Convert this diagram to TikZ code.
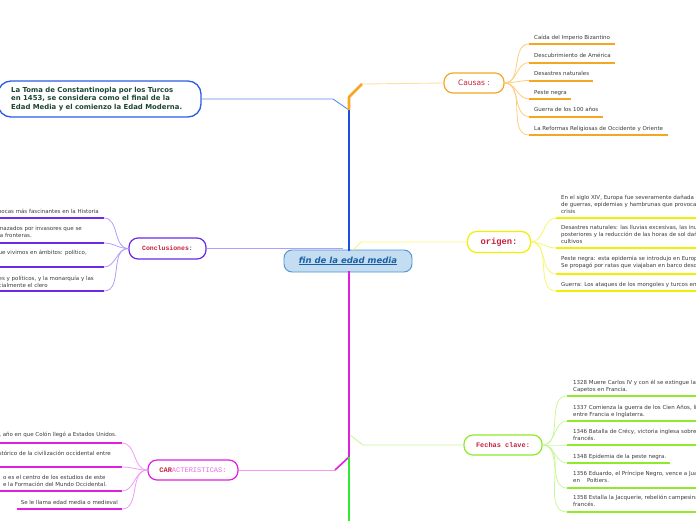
\documentclass[tikz,border=0pt]{standalone}
\usepackage{fontspec}
\setmainfont{DejaVu Sans}
\newfontfamily\monof{Liberation Mono}
\definecolor{leafgray}{HTML}{3A3A3A}
\definecolor{crim}{HTML}{C8203C}
\definecolor{tomablue}{HTML}{2B5CE6}
\definecolor{tomatxt}{HTML}{1C4632}
\definecolor{tomaconn}{HTML}{5B8DEF}
\definecolor{trunkblue}{HTML}{1A4FE0}
\definecolor{orange1}{HTML}{F5A623}
\definecolor{orangeL}{HTML}{FFDDA8}
\definecolor{orangeC}{HTML}{FFCC80}
\definecolor{yel}{HTML}{F0F000}
\definecolor{yelL}{HTML}{F6F670}
\definecolor{lgreen}{HTML}{8EEA2A}
\definecolor{lgreenL}{HTML}{C8F79A}
\definecolor{purp}{HTML}{6A2AE6}
\definecolor{purpL}{HTML}{B59CF8}
\definecolor{mag}{HTML}{E020E0}
\definecolor{magL}{HTML}{F39AF3}
\definecolor{grn}{HTML}{33E833}
\definecolor{cfill}{HTML}{C4DDF0}
\definecolor{cborder}{HTML}{4A92D4}
\definecolor{ctext}{HTML}{1B60A6}
\definecolor{caraL}{HTML}{E86CE8}
\definecolor{colongreen}{HTML}{2A6A50}
\tikzset{
 leaf/.style={font=\fontsize{5.5}{6.8}\selectfont, text=leafgray, inner sep=0pt, align=left},
 pill/.style={draw, line width=1.2pt, rounded corners=9pt, fill=white, inner sep=0pt},
 trunk/.style={line width=2.6pt},
 thinconn/.style={line width=0.9pt},
 curve/.style={line width=0.8pt},
 uline/.style={line width=2pt},
}
\begin{document}
\begin{tikzpicture}[x=1pt,y=-1pt]
\useasboundingbox (0,0) rectangle (696,520);
\clip (0,0) rectangle (696,520);

% trunk coordinates
\coordinate (tO2) at (362,84);
\coordinate (tO1) at (349,97);
\coordinate (tB) at (349,110);
\coordinate (tTop) at (349,251);
\coordinate (tBot) at (349,271);
\coordinate (tM) at (349,457);
\coordinate (tEnd) at (349,530);
\coordinate (tb1) at (333,99);
\coordinate (yl0) at (353,250);
\coordinate (yl1) at (361,242);
\coordinate (pl1) at (343,248.5);
\coordinate (mg1) at (335,470);
\coordinate (lg0) at (350,435);
\coordinate (lg1) at (363,445);

% nodes
\node[draw=cborder, fill=cfill, line width=0.9pt, rounded corners=8pt, minimum width=128pt, minimum height=22pt, inner sep=0pt, font=\fontsize{8.5}{10}\selectfont\bfseries\itshape, text=ctext] (central) at (348,261) {\underline{fin de la edad media}};
\node[pill, draw=orange1, minimum width=60pt, minimum height=20pt, font=\fontsize{7.5}{9}\selectfont, text=crim] (causas) at (474,83) {Causas :};
\node[pill, draw=yel, minimum width=63pt, minimum height=21pt, font=\monof\bfseries\fontsize{8.8}{10}\selectfont, text=crim] (origen) at (499,242) {origen:};
\node[pill, draw=lgreen, minimum width=78pt, minimum height=20pt, font=\monof\bfseries\fontsize{6.9}{9}\selectfont, text=crim] (fechas) at (503,445) {Fechas clave:};
\node[pill, draw=purp, minimum width=77pt, minimum height=21pt, font=\monof\bfseries\fontsize{6.5}{9}\selectfont, text=crim] (concl) at (167.5,248.5) {Conclusiones\textcolor{colongreen}{:}};
\node[pill, draw=mag, minimum width=90pt, minimum height=20pt, font=\monof\fontsize{7}{9}\selectfont, text=crim] (caract) at (193,470) {\textbf{CAR}\textcolor{caraL}{ACTERISTICAS:}};
\node[draw=tomablue, line width=1.3pt, rounded corners=13pt, minimum width=203pt, minimum height=36pt, fill=white, inner sep=0pt] (toma) at (99.5,99) {};
\node[anchor=west, align=left, inner sep=0pt, font=\fontsize{6.9}{8.7}\selectfont\bfseries, text=tomatxt] (tomatext) at (11,99) {La Toma de Constantinopla por los Turcos\\en 1453, se considera como el final de la\\Edad Media y el comienzo la Edad Moderna.};

% trunk and branches
\draw[thinconn, tomaconn] (toma.east) -- (tb1) -- (tB);
\draw[trunk, trunkblue] (tTop) -- (tB);
\draw[trunk, orange1, line join=round] (tB) -- (tO1) -- (tO2);
\draw[thinconn, orangeL] (tO2) -- (causas.west);
\draw[thinconn, yelL] (yl0) -- (yl1) -- (origen.west);
\draw[thinconn, purpL] (concl.east) -- (pl1);
\draw[trunk, mag] (tBot) -- (tM);
\draw[line width=1.6pt, mag] (tM) -- (mg1);
\draw[thinconn, magL] (mg1) -- (caract.east);
\draw[thinconn, lgreenL] (lg0) -- (lg1) -- (fechas.west);
\draw[trunk, grn] (tM) -- (tEnd);

% Causas leaves
\foreach \i/\y/\e/\t in {1/44/615/{Caída del Imperio Bizantino}, 2/62.5/615/{Descubrimiento de América}, 3/80.5/593/{Desastres naturales}, 4/99/571/{Peste negra}, 5/116.5/603/{Guerra de los 100 años}, 6/135/668/{La Reformas Religiosas de Occidente y Oriente}}{
 \coordinate (cas\i) at (529,\y);
 \coordinate (cae\i) at (\e,\y);
 \node[leaf, anchor=base west] (cat\i) at (534,{\y-4.8}) {\t};
 \draw[uline, orange1] (cas\i) -- (cae\i);
 \draw[curve, orangeC] (causas.east) to[out=0,in=180] (cas\i);
}

% Origen leaves
\foreach \i/\tp/\u/\t in {1/195.2/218/{En el siglo XIV, Europa fue severamente dañada por una serie\\de guerras, epidemias y hambrunas que provocaron una gran\\crisis}, 2/225.2/248/{Desastres naturales: las lluvias excesivas, las inundaciones\\posteriores y la reducción de las horas de sol dañaron los\\cultivos}, 3/256.2/274/{Peste negra: esta epidemia se introdujo en Europa en 1347.\\Se propagó por ratas que viajaban en barco desde Asia.}, 4/282.2/291/{Guerra: Los ataques de los mongoles y turcos en Europa}}{
 \coordinate (ors\i) at (556,\u);
 \coordinate (ore\i) at (710,\u);
 \node[leaf, anchor=north west] (ort\i) at (561,\tp) {\t};
 \draw[uline, yel] (ors\i) -- (ore\i);
 \draw[curve, yelL] (origen.east) to[out=0,in=180] (ors\i);
}

% Fechas leaves
\foreach \i/\tp/\u/\e/\t in {1/380.2/396/710/{1328 Muere Carlos IV y con él se extingue la dinastía de los\\Capetos en Francia.}, 2/405.2/421/710/{1337 Comienza la guerra de los Cien Años, librada\\entre Francia e Inglaterra.}, 3/429.2/445/710/{1346 Batalla de Crécy, victoria inglesa sobre el ejército\\francés.}, 4/454.2/463/670/{1348 Epidemia de la peste negra.}, 5/471.2/488/710/{1356 Eduardo, el Príncipe Negro, vence a Juan II\\en\ \ \ \ Poitiers.}, 6/495.2/512/710/{1358 Estalla la Jacquerie, rebelión campesina contra el poder\\francés.}}{
 \coordinate (fes\i) at (567,\u);
 \coordinate (fee\i) at (\e,\u);
 \node[leaf, anchor=north west] (fet\i) at (573,\tp) {\t};
 \draw[uline, lgreen] (fes\i) -- (fee\i);
 \draw[curve, lgreenL] (fechas.east) to[out=0,in=180] (fes\i);
}

% Conclusiones leaves
\foreach \i/\x/\tp/\u/\t in {1/99/209.2/218/{Fue una de las épocas más fascinantes en la Historia}, 2/82/226.2/243/{nazados por invasores que se\\a fronteras.}, 3/87/250.2/267/{en que vivimos en ámbitos: político,}, 4/94/276.2/291/{es y políticos, y la monarquía y las\\cialmente el clero}}{
 \coordinate (cos\i) at (-5,\u);
 \coordinate (coe\i) at (104,\u);
 \node[leaf, anchor=north east] (cot\i) at (\x,\tp) {\t};
 \draw[uline, purp] (cos\i) -- (coe\i);
 \draw[curve, purpL] (concl.west) to[out=180,in=0] (coe\i);
}

% Caracteristicas leaves
\foreach \i/\x/\tp/\u/\s/\t in {1/117/432.2/443/-5/{1492, año en que Colón llegó a Estados Unidos.}, 2/111/451.2/467/-5/{Es un periodo histórico de la civilización occidental entre}, 3/107/475.2/491/-5/{o es el centro de los estudios de este\\e la Formación del Mundo Occidental.}, 4/118/500.2/509/17/{Se le llama edad media o medieval}}{
 \coordinate (crs\i) at (\s,\u);
 \coordinate (cre\i) at (122,\u);
 \node[leaf, anchor=north east] (crt\i) at (\x,\tp) {\t};
 \draw[uline, mag] (crs\i) -- (cre\i);
 \draw[curve, magL] (caract.west) to[out=180,in=0] (cre\i);
}
\end{tikzpicture}
\end{document}
